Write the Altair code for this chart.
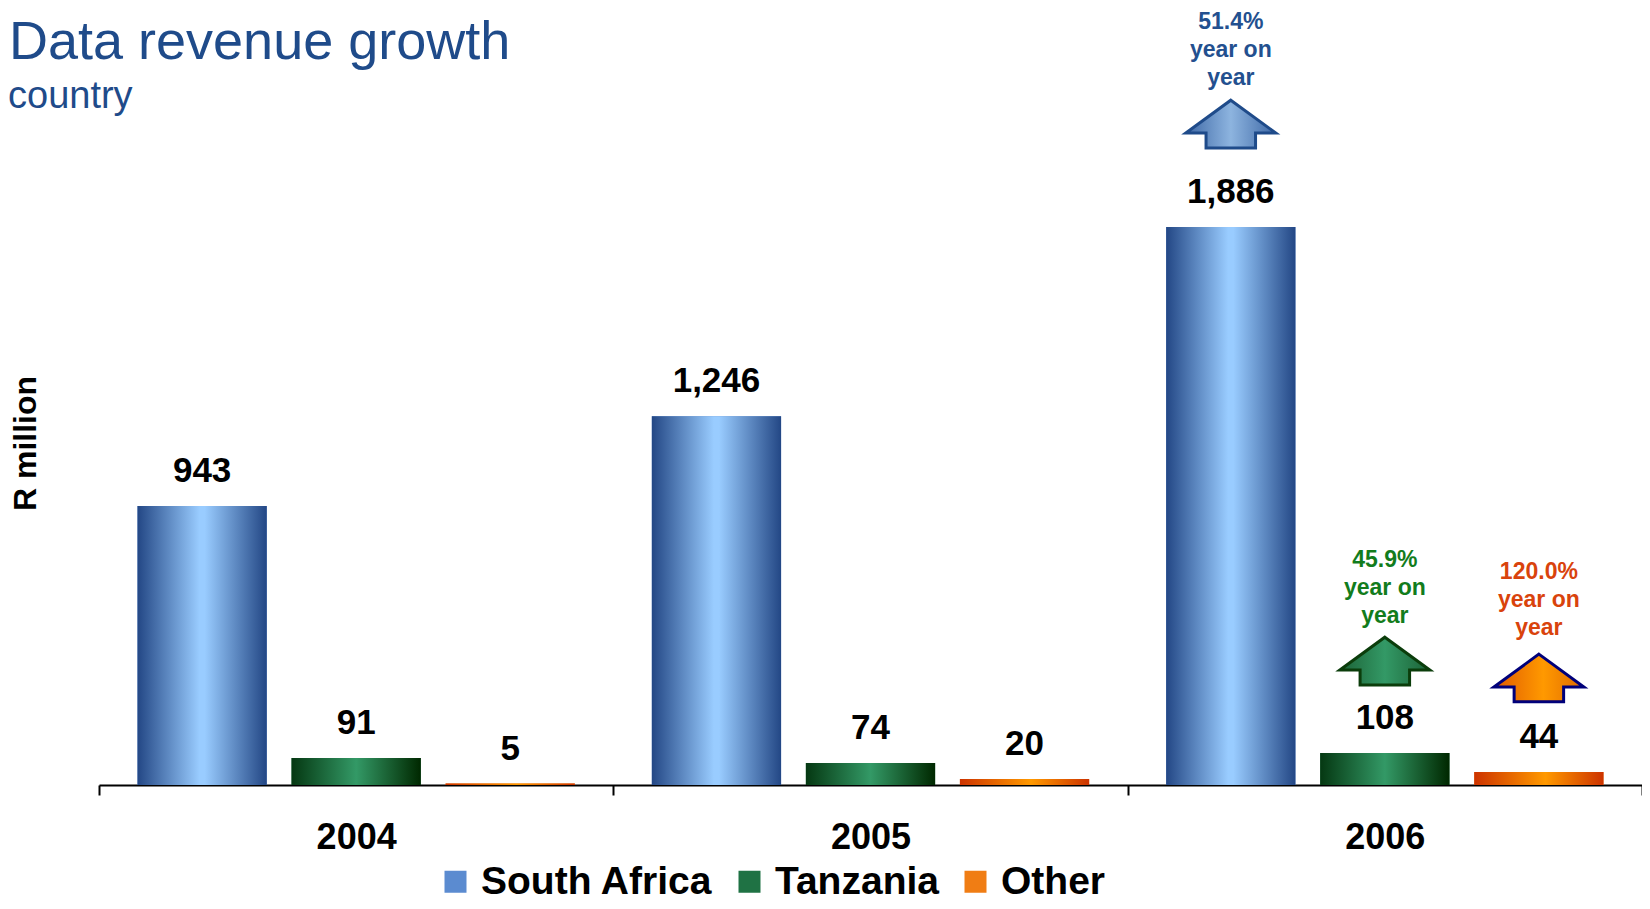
import altair as alt
import pandas as pd

# ---------------- data ----------------
years = ["2004", "2005", "2006"]
countries = ["South Africa", "Tanzania", "Other"]
south_africa = [943, 1246, 1886]
tanzania = [91, 74, 108]
other = [5, 20, 44]
growth_2006 = ["51.4%", "45.9%", "120.0%"]
title_text = "Data revenue growth"
subtitle_text = "country"
y_title = "R million"

series = {"South Africa": south_africa, "Tanzania": tanzania, "Other": other}
rows = []
for i, yr in enumerate(years):
    for c in countries:
        rows.append({"year": yr, "country": c, "value": series[c][i]})
df = pd.DataFrame(rows)

ann = pd.DataFrame({
    "year": [years[-1]] * 3,
    "country": countries,
    "value": [series[c][-1] for c in countries],
    "label": [g + "\nyear on\nyear" for g in growth_2006],
})

# ---------------- styles ----------------
FONT = "Liberation Sans"


def grad(stops):
    return alt.LinearGradient(
        gradient="linear",
        stops=[alt.GradientStop(color=col, offset=off) for off, col in stops],
        x1=0, x2=1, y1=0, y2=0,
    )


bar_grad = {
    "South Africa": grad([(0, "#234785"), (0.48, "#99CCFF"), (0.52, "#99CCFF"), (1, "#234785")]),
    "Tanzania": grad([(0, "#053812"), (0.5, "#339966"), (1, "#002800")]),
    "Other": grad([(0, "#CC3300"), (0.55, "#FF9900"), (1, "#CC3300")]),
}
arrow_grad = {
    "South Africa": grad([(0, "#3E68A6"), (0.5, "#8DB4DF"), (1, "#3E68A6")]),
    "Tanzania": grad([(0, "#1C6236"), (0.5, "#339966"), (1, "#1C6236")]),
    "Other": grad([(0, "#E05A00"), (0.55, "#FF9900"), (1, "#E06A00")]),
}
arrow_stroke = {"South Africa": "#1F4B8A", "Tanzania": "#0B3D0B", "Other": "#00007A"}
ann_color = {"South Africa": "#23508F", "Tanzania": "#127C1C", "Other": "#D9430C"}
arrow_off = {"South Africa": -103, "Tanzania": -92, "Other": -94}
text_off = {"South Africa": -198, "Tanzania": -186, "Other": -193}
legend_colors = ["#5B8BD0", "#1F7244", "#F07D14"]

arrow_path = ("M0,-0.53 L1,0.2 L0.55,0.2 L0.55,0.53 "
              "L-0.55,0.53 L-0.55,0.2 L-1,0.2 Z")

# ---------------- shared encodings ----------------
x_enc = alt.X(
    "year:N",
    scale=alt.Scale(domain=years, paddingInner=0, paddingOuter=0),
    axis=alt.Axis(
        title=None, labelAngle=0, labelFont=FONT, labelFontSize=36,
        labelFontWeight="bold", labelColor="black", labelPadding=25,
        tickBand="extent", ticks=True, tickSize=10, tickWidth=2,
        tickColor="black", domainColor="black", domainWidth=2, grid=False,
    ),
)
xo_enc = alt.XOffset(
    "country:N",
    scale=alt.Scale(domain=countries, paddingInner=0.161, paddingOuter=0.25),
)
y_enc = alt.Y(
    "value:Q",
    scale=alt.Scale(domain=[0, 2312], nice=False),
    axis=alt.Axis(
        title=y_title, labels=False, ticks=False, domain=False, grid=False,
        titleFont=FONT, titleFontSize=32, titleFontWeight="bold",
        titleColor="black", titleAngle=270, titleX=-64, titleY=342,
        titleAlign="center", titleBaseline="alphabetic",
    ),
)

base = alt.Chart(df)

# solid bars (provide the legend) - covered by gradient bars
legend_bars = base.mark_bar().encode(
    x=x_enc, xOffset=xo_enc, y=y_enc,
    color=alt.Color(
        "country:N",
        scale=alt.Scale(domain=countries, range=legend_colors),
        legend=alt.Legend(
            title=None, orient="none", legendX=337, legendY=761,
            direction="horizontal", columns=3, symbolType="square",
            symbolSize=484, symbolStrokeWidth=0, labelFont=FONT,
            labelFontSize=39, labelFontWeight="bold", labelColor="black",
            labelOffset=6, columnPadding=17, padding=0, labelLimit=600,
        ),
    ),
)

layers = [legend_bars]
for c in countries:
    layers.append(
        base.transform_filter(alt.datum.country == c)
        .mark_bar(fill=bar_grad[c])
        .encode(x=x_enc, xOffset=xo_enc, y=y_enc)
    )

values_text = base.mark_text(
    font=FONT, fontSize=35, fontWeight="bold", color="black",
    baseline="alphabetic", align="center", dy=-24,
).encode(x=x_enc, xOffset=xo_enc, y=y_enc, text=alt.Text("value:Q", format=","))
layers.append(values_text)

for c in countries:
    a = alt.Chart(ann).transform_filter(alt.datum.country == c)
    layers.append(
        a.mark_point(
            shape=arrow_path, size=8100, filled=True, fill=arrow_grad[c],
            stroke=arrow_stroke[c], strokeWidth=3, opacity=1,
            yOffset=arrow_off[c],
        ).encode(x=x_enc, xOffset=xo_enc, y=y_enc)
    )
    layers.append(
        a.mark_text(
            font=FONT, fontSize=23, fontWeight="bold", color=ann_color[c],
            align="center", baseline="alphabetic", lineBreak="\n",
            lineHeight=28, dy=text_off[c],
        ).encode(x=x_enc, xOffset=xo_enc, y=y_enc, text="label:N")
    )

titles = pd.DataFrame({"t": [title_text], "s": [subtitle_text]})
layers.append(
    alt.Chart(titles).mark_text(
        font=FONT, fontSize=54, color="#1F4B8A", align="left",
        baseline="alphabetic",
    ).encode(x=alt.value(-90), y=alt.value(-42), text="t:N")
)
layers.append(
    alt.Chart(titles).mark_text(
        font=FONT, fontSize=38, color="#1F4B8A", align="left",
        baseline="alphabetic",
    ).encode(x=alt.value(-91), y=alt.value(7), text="s:N")
)

chart = alt.layer(*layers).properties(
    width=1543, height=684,
    padding={"left": 91, "top": 93, "right": 0, "bottom": 116},
    autosize=alt.AutoSizeParams(type="none"),
    background="white",
).configure_view(stroke=None)

chart.save("out.html", embed_options={"renderer": "svg", "actions": False})
